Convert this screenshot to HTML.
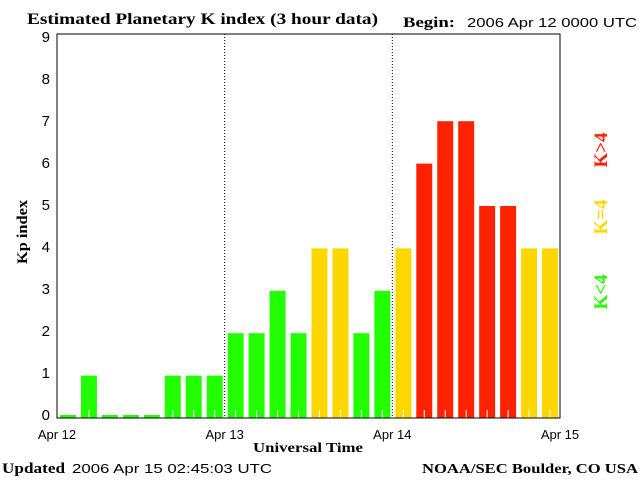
<!DOCTYPE html>
<html><head><meta charset="utf-8"><style>
body{margin:0;background:#fff;}
svg{display:block;}
.s{font-family:"Liberation Serif",serif;font-weight:bold;}
.a{font-family:"Liberation Sans",sans-serif;}
</style></head><body>
<svg width="640" height="480">
<text class="s" x="27" y="24" font-size="16" textLength="351" lengthAdjust="spacingAndGlyphs">Estimated Planetary K index (3 hour data)</text>
<text class="s" x="403" y="27" font-size="15" textLength="52" lengthAdjust="spacingAndGlyphs">Begin:</text>
<text class="a" x="467" y="27" font-size="13" textLength="170" lengthAdjust="spacingAndGlyphs">2006 Apr 12 0000 UTC</text>
<g id="plot"></g>
<text class="s" x="0" y="0" font-size="15" textLength="64" lengthAdjust="spacingAndGlyphs" transform="translate(27,232) rotate(-90)" text-anchor="middle">Kp index</text>
<text class="s" x="253" y="452" font-size="14" textLength="110" lengthAdjust="spacingAndGlyphs">Universal Time</text>
<text class="s" x="2" y="473" font-size="15" textLength="63" lengthAdjust="spacingAndGlyphs">Updated</text>
<text class="a" x="72" y="473" font-size="13" textLength="200" lengthAdjust="spacingAndGlyphs">2006 Apr 15 02:45:03 UTC</text>
<text class="s" x="422" y="473" font-size="14" textLength="216" lengthAdjust="spacingAndGlyphs">NOAA/SEC Boulder, CO USA</text>
<text class="s" font-size="19" fill="#ff2200" text-anchor="middle" transform="translate(607,150) rotate(-90)">K&gt;4</text>
<text class="s" font-size="19" fill="#ffd700" text-anchor="middle" transform="translate(607,217) rotate(-90)">K=4</text>
<text class="s" font-size="19" fill="#22ff00" text-anchor="middle" transform="translate(607,292) rotate(-90)">K&lt;4</text>
</svg>
<script>
const kpValues=[0,1,0,0,0,1,1,1, 2,2,3,2,4,4,2,3, 4,6,7,7,5,5,4,4];
const yTicks=[0,1,2,3,4,5,6,7,8,9];
const dayLabels=["Apr 12","Apr 13","Apr 14","Apr 15"];
const NS="http://www.w3.org/2000/svg";
const g=document.getElementById('plot');
const X0=57,X1=560,Y0=418,UNIT=42.4,LUNIT=42,TOP=34;
const slot=(X1-X0)/kpValues.length;
function xScale(i){return X0+i*slot;}
function yScale(v){return Y0-v*UNIT;}
function labelY(v){return Y0-v*LUNIT;}
function mk(t,a){const e=document.createElementNS(NS,t);for(const k in a)e.setAttribute(k,a[k]);g.appendChild(e);return e;}
kpValues.forEach((v,i)=>{
  const col=v>4?'#ff2200':(v==4?'#ffd700':'#22ff00');
  const h=v===0?3:Y0-yScale(v);
  const x=xScale(i)+3,w=slot-5;
  const r=mk('rect',{x:x,y:Y0-h,width:w,height:h,fill:col});
  
  
  if(v>0){const l=mk('line',{x1:x+w/2,x2:x+w/2,y1:Y0-8,y2:Y0,stroke:'#fff','stroke-width':1});
  
  }
});
yTicks.forEach(t=>{
  const e=mk('text',{x:50,y:labelY(t)+2,'font-size':15,'text-anchor':'end','font-family':'Liberation Sans'});
  e.textContent=t;
  
  
});
dayLabels.forEach((d,i)=>{
  const x=X0+i*(X1-X0)/3;
  const e=mk('text',{x:x,y:439,'font-size':13,'text-anchor':'middle','font-family':'Liberation Sans'});
  e.textContent=d;
  
  
  if(i>0&&i<3){const l=mk('line',{x1:x,x2:x,y1:TOP,y2:Y0,stroke:'#000','stroke-dasharray':'1,2'});
  
  }
});
const f=mk('rect',{x:X0,y:TOP,width:X1-X0,height:Y0-TOP,fill:'none',stroke:'#000','stroke-width':1});


</script>
</body></html>
